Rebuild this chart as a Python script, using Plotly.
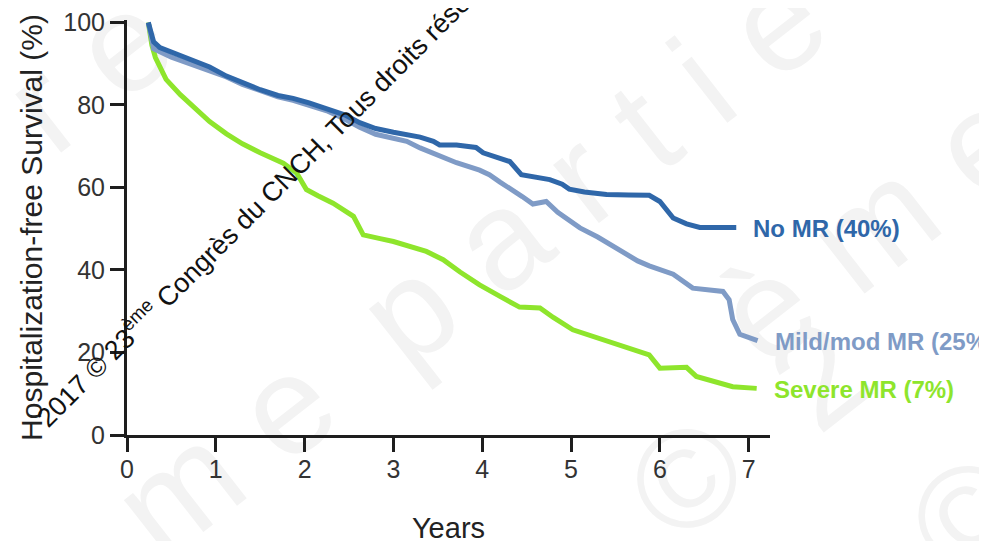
import plotly.graph_objects as go

# ---------------- data ----------------
no_mr_years = [0.24, 0.30, 0.37, 0.55, 0.75, 0.93, 1.12, 1.30, 1.50, 1.70, 1.87, 2.05,
               2.25, 2.45, 2.62, 2.80, 3.00, 3.30, 3.45, 3.52, 3.71, 3.93, 4.01, 4.15,
               4.31, 4.44, 4.60, 4.76, 4.90, 4.98, 5.15, 5.40, 5.65, 5.88, 6.00, 6.15,
               6.30, 6.45, 6.86]
no_mr_surv = [100, 95.3, 93.9, 92.3, 90.6, 89.2, 87.0, 85.4, 83.7, 82.3, 81.6, 80.5,
              79.2, 77.6, 75.7, 74.3, 73.4, 72.2, 71.2, 70.3, 70.3, 69.7, 68.4, 67.4,
              66.3, 63.1, 62.5, 61.9, 60.8, 59.6, 58.9, 58.3, 58.2, 58.1, 56.6, 52.6,
              51.2, 50.3, 50.3]

mild_years = [0.24, 0.28, 0.30, 0.50, 0.75, 0.93, 1.12, 1.30, 1.50, 1.70, 1.87, 2.05,
              2.25, 2.45, 2.62, 2.80, 3.00, 3.15, 3.30, 3.52, 3.71, 3.97, 4.08, 4.20,
              4.31, 4.45, 4.57, 4.72, 4.85, 5.10, 5.30, 5.55, 5.75, 5.88, 6.15, 6.37,
              6.71, 6.78, 6.82, 6.90, 7.10]
mild_surv = [100, 95.5, 93.6, 91.6, 89.6, 88.4, 86.8, 85.0, 83.4, 82.0, 81.1, 80.0,
             78.6, 76.6, 74.6, 72.9, 72.0, 71.2, 69.6, 67.6, 66.0, 64.2, 63.1, 61.3,
             59.6, 57.8, 56.0, 56.6, 54.0, 50.2, 48.0, 44.9, 42.2, 41.0, 39.0, 35.6,
             34.8, 32.8, 28.0, 24.4, 22.9]

severe_years = [0.24, 0.28, 0.32, 0.44, 0.60, 0.75, 0.93, 1.12, 1.30, 1.50, 1.76, 1.91,
                2.02, 2.15, 2.32, 2.55, 2.66, 2.85, 3.00, 3.37, 3.56, 3.75, 3.97, 4.20,
                4.42, 4.65, 4.80, 5.02, 5.25, 5.47, 5.70, 5.88, 6.00, 6.30, 6.41, 6.60,
                6.82, 7.09]
severe_surv = [100, 94.5, 91.5, 86.2, 82.5, 79.7, 76.0, 73.0, 70.6, 68.4, 65.9, 63.5,
               59.5, 58.0, 56.2, 53.0, 48.5, 47.6, 46.9, 44.5, 42.5, 39.5, 36.4, 33.6,
               31.0, 30.8, 28.5, 25.5, 23.9, 22.3, 20.5, 19.4, 16.2, 16.4, 14.2, 13.0,
               11.7, 11.3]

series_names = ["No MR (40%)", "Mild/mod MR (25%)", "Severe MR (7%)"]
x_ticks = [0, 1, 2, 3, 4, 5, 6, 7]
y_ticks = [0, 20, 40, 60, 80, 100]
x_title = "Years"
y_title = "Hospitalization-free Survival (%)"
watermark = "2017 © 23<sup>ème</sup> Congrès du CNCH, Tous droits réservés"
NB = "\u00a0"
faint_marks = [NB.join("me") + NB * 2 + NB.join("partie"), NB.join("ème"),
               "©" + NB * 2 + "2", "©", NB.join("re")]

# ---------------- styles ----------------
C_NO = "#2f67a9"
C_MILD = "#7f9bc6"
C_SEV = "#8ee52c"
FONT = "Liberation Sans, Arial, Helvetica, sans-serif"
AX = "#1e1e1e"
FAINT = "#f3f3f3"

fig = go.Figure()

# faint background watermark letters, drawn below the traces
faint_pos = [(0.52, 0.44), (1.148, 0.530), (0.953, 0.036), (1.295, -0.169), (-0.073, 0.904)]
for txt, (px, py) in zip(faint_marks, faint_pos):
    fig.add_shape(type="rect", xref="paper", yref="paper",
                  x0=px - 0.001, x1=px + 0.001, y0=py - 0.001, y1=py + 0.001,
                  line=dict(width=0), fillcolor="rgba(0,0,0,0)", layer="below",
                  label=dict(text=txt, textangle=-38, textposition="middle center",
                             font=dict(family=FONT, size=140, color=FAINT)))

series = [
    (severe_years, severe_surv, C_SEV, series_names[2]),
    (mild_years, mild_surv, C_MILD, series_names[1]),
    (no_mr_years, no_mr_surv, C_NO, series_names[0]),
]
for xs, ys, col, name in series:
    fig.add_trace(go.Scatter(x=xs, y=ys, mode="lines", name=name,
                             line=dict(color=col, width=5), hoverinfo="skip"))
    fig.add_annotation(x=xs[-1], y=ys[-1], xref="x", yref="y",
                       text="<b>" + name + "</b>",
                       showarrow=False, xanchor="left", yanchor="middle",
                       xshift=15, yshift=-1,
                       font=dict(family=FONT, size=24, color=col))

fig.add_annotation(text=watermark, xref="paper", yref="paper", x=0.222, y=0.588,
                   xanchor="center", yanchor="middle",
                   showarrow=False, textangle=-45,
                   font=dict(family=FONT, size=27, color="#111111"))

fig.update_layout(
    width=987, height=541,
    margin=dict(l=119, r=225, t=12, b=114, autoexpand=False),
    plot_bgcolor="rgba(0,0,0,0)", paper_bgcolor="white",
    showlegend=False,
    font=dict(family=FONT, color="#333333"),
    xaxis=dict(range=[0, 7.24], tickvals=x_ticks, ticks="outside", ticklen=14,
               tickwidth=3, tickcolor=AX, showline=True, linecolor=AX, linewidth=3,
               showgrid=False, zeroline=False, ticklabelstandoff=-4, automargin=False,
               tickfont=dict(family=FONT, size=25, color="#333333"),
               title=dict(text=x_title, standoff=36,
                          font=dict(family=FONT, size=29, color="#222222"))),
    yaxis=dict(range=[0, 100.6], tickvals=y_ticks, ticks="outside", ticklen=14,
               tickwidth=3, tickcolor=AX, showline=True, linecolor=AX, linewidth=3,
               showgrid=False, zeroline=False, ticklabelstandoff=0, automargin=False,
               tickfont=dict(family=FONT, size=25, color="#333333"),
               title=dict(text=y_title, standoff=12,
                          font=dict(family=FONT, size=30, color="#222222"))),
)

fig.write_html("out.html")
